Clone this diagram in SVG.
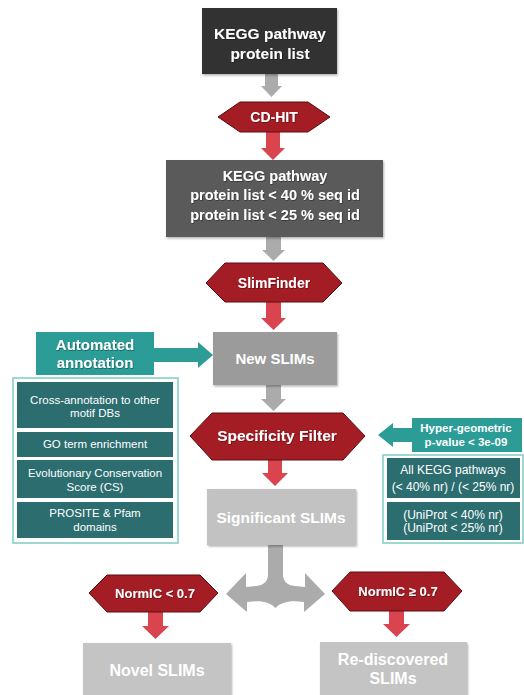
<svg xmlns="http://www.w3.org/2000/svg" width="524" height="695" viewBox="0 0 524 695">
<defs>
<filter id="ts" x="-10%" y="-20%" width="120%" height="150%">
<feDropShadow dx="0.6" dy="0.8" stdDeviation="0.4" flood-color="#000" flood-opacity="0.45"/>
</filter>
<filter id="bs" x="-5%" y="-5%" width="112%" height="115%">
<feDropShadow dx="1" dy="1.5" stdDeviation="1" flood-color="#000" flood-opacity="0.3"/>
</filter>
</defs>
<style>
text{font-family:"Liberation Sans",Arial,sans-serif;text-anchor:middle;fill:#fff}
.b{font-weight:bold}
.sh{filter:url(#ts)}
.hex{fill:#a51d24;stroke:#5a0e12;stroke-width:1}
.red{fill:#d9444f}
.gray{fill:#ababab}
.teal{fill:#2c9c97}
.dteal{fill:#2c6d70}
.panel{fill:#fff;stroke:#7fcbc3;stroke-width:1.5}
</style>
<rect width="524" height="695" fill="#fff"/>

<g id="connectors">
<path class="gray" d="M265,74 H278 V86 H282 L271.5,97 L261,86 H265 Z"/>
<path class="red" d="M266,132 H280 V148 H285 L273,160 L261,148 H266 Z"/>
<path class="gray" d="M266,237 H281 V250 H285 L273.5,261 L262,250 H266 Z"/>
<path class="red" d="M266,302 H281 V318 H286 L273.5,330 L261,318 H266 Z"/>
<path class="teal" d="M154,348 H198 V342 L213,355 L198,368 V362 H154 Z"/>
<path class="gray" d="M266,385 H281 V399 H286 L273.5,411 L261,399 H266 Z"/>
<path class="teal" d="M412,428 H393 V423 L378,435 L393,447 V442 H412 Z"/>
<path class="red" d="M268,460 H282 V473 H288 L275,486 L262,473 H268 Z"/>
<path class="gray" d="M268,545 V574 Q268,585 256,586 L246,587 V573 L226,594 L247,612 V602 C261,600 270,602 275.5,608 C281,602 290,600 304,602 V612 L325,594 L305,573 V587 L295,586 Q283,585 283,574 V545 Z"/>
<path class="red" d="M148,612 H163 V626 H169 L155.5,639 L142,626 H148 Z"/>
<path class="red" d="M389,611 H404 V624 H410 L396.5,637 L383,624 H389 Z"/>
</g>

<g id="kegg-list">
<rect x="202" y="8" width="135" height="66" fill="#333" filter="url(#bs)"/>
<text class="b sh" x="270" y="39" font-size="15.5">KEGG pathway</text>
<text class="b sh" x="270" y="59" font-size="15.5">protein list</text>
</g>

<g id="cd-hit">
<polygon class="hex" points="218,117 240,102 308,102 330,117 308,132 240,132"/>
<text class="b sh" x="274" y="122" font-size="14">CD-HIT</text>
</g>

<g id="kegg-nr">
<rect x="166" y="160" width="217" height="77" fill="#5a5a5a" filter="url(#bs)"/>
<text class="b sh" x="275" y="181" font-size="14.5">KEGG pathway</text>
<text class="b sh" x="275" y="200" font-size="14.5">protein list &lt; 40 % seq id</text>
<text class="b sh" x="275" y="220" font-size="14.5">protein list &lt; 25 % seq id</text>
</g>

<g id="slimfinder">
<polygon class="hex" points="206,283 225,263 323,263 342,283 323,302 225,302"/>
<text class="b sh" x="274" y="288" font-size="14">SlimFinder</text>
</g>

<g id="automated">
<rect x="36" y="332" width="118" height="43" class="teal"/>
<text class="b sh" x="95" y="350" font-size="15">Automated</text>
<text class="b sh" x="95" y="368" font-size="15">annotation</text>
</g>

<g id="new-slims">
<rect x="213" y="332" width="124" height="53" fill="#9b9b9b" filter="url(#bs)"/>
<text class="b" x="275" y="364" font-size="15" fill="#f2f2f2">New SLIMs</text>
</g>

<g id="annotation-panel">
<rect x="13" y="378" width="165" height="165" class="panel"/>
<rect x="17" y="382" width="156" height="46" class="dteal"/>
<text x="95" y="404" font-size="11.5">Cross-annotation to other</text>
<text x="95" y="417" font-size="11.5">motif DBs</text>
<rect x="17" y="432" width="156" height="25" class="dteal"/>
<text x="95" y="448" font-size="11.5">GO term enrichment</text>
<rect x="17" y="460" width="156" height="38" class="dteal"/>
<text x="95" y="477" font-size="11.5">Evolutionary Conservation</text>
<text x="95" y="491" font-size="11.5">Score (CS)</text>
<rect x="17" y="502" width="156" height="36" class="dteal"/>
<text x="95" y="517" font-size="11.5">PROSITE &amp; Pfam</text>
<text x="95" y="531" font-size="11.5">domains</text>
</g>

<g id="specificity">
<polygon class="hex" points="190,436 212,413 343,413 365,436 343,460 212,460"/>
<text class="b sh" x="277" y="441" font-size="15.5">Specificity Filter</text>
</g>

<g id="hypergeometric">
<rect x="412" y="418" width="110" height="34" class="teal"/>
<text class="b" x="466" y="432" font-size="11.5">Hyper-geometric</text>
<text class="b" x="466" y="446" font-size="11.5">p-value &lt; 3e-09</text>
</g>

<g id="pathway-panel">
<rect x="383" y="455" width="140" height="88" class="panel"/>
<rect x="387" y="458" width="133" height="40" class="dteal"/>
<text x="453" y="474" font-size="12">All KEGG pathways</text>
<text x="453" y="491" font-size="12">(&lt; 40% nr) / (&lt; 25% nr)</text>
<rect x="387" y="502" width="133" height="38" class="dteal"/>
<text x="453" y="519" font-size="12">(UniProt &lt; 40% nr)</text>
<text x="453" y="532" font-size="12">(UniProt &lt; 25% nr)</text>
</g>

<g id="significant">
<rect x="207" y="489" width="149" height="56" fill="#c2c2c2" filter="url(#bs)"/>
<text class="b" x="281" y="523" font-size="15.5" fill="#f7f7f7">Significant SLIMs</text>
</g>

<g id="normic-low">
<polygon class="hex" points="89,593 107,575 200,575 218,593 200,612 107,612"/>
<text class="b sh" x="155" y="598" font-size="13">NormIC &lt; 0.7</text>
</g>

<g id="normic-high">
<polygon class="hex" points="332,591 350,572 444,572 462,591 444,611 350,611"/>
<text class="b sh" x="398" y="596" font-size="13">NormIC ≥ 0.7</text>
</g>

<g id="novel">
<rect x="83" y="643" width="148" height="55" fill="#c4c4c4" filter="url(#bs)"/>
<text class="b" x="157" y="676" font-size="16" fill="#f7f7f7">Novel SLIMs</text>
</g>

<g id="rediscovered">
<rect x="320" y="642" width="147" height="56" fill="#c4c4c4" filter="url(#bs)"/>
<text class="b" x="393" y="665" font-size="16" fill="#f7f7f7">Re-discovered</text>
<text class="b" x="393" y="684" font-size="16" fill="#f7f7f7">SLIMs</text>
</g>
</svg>
